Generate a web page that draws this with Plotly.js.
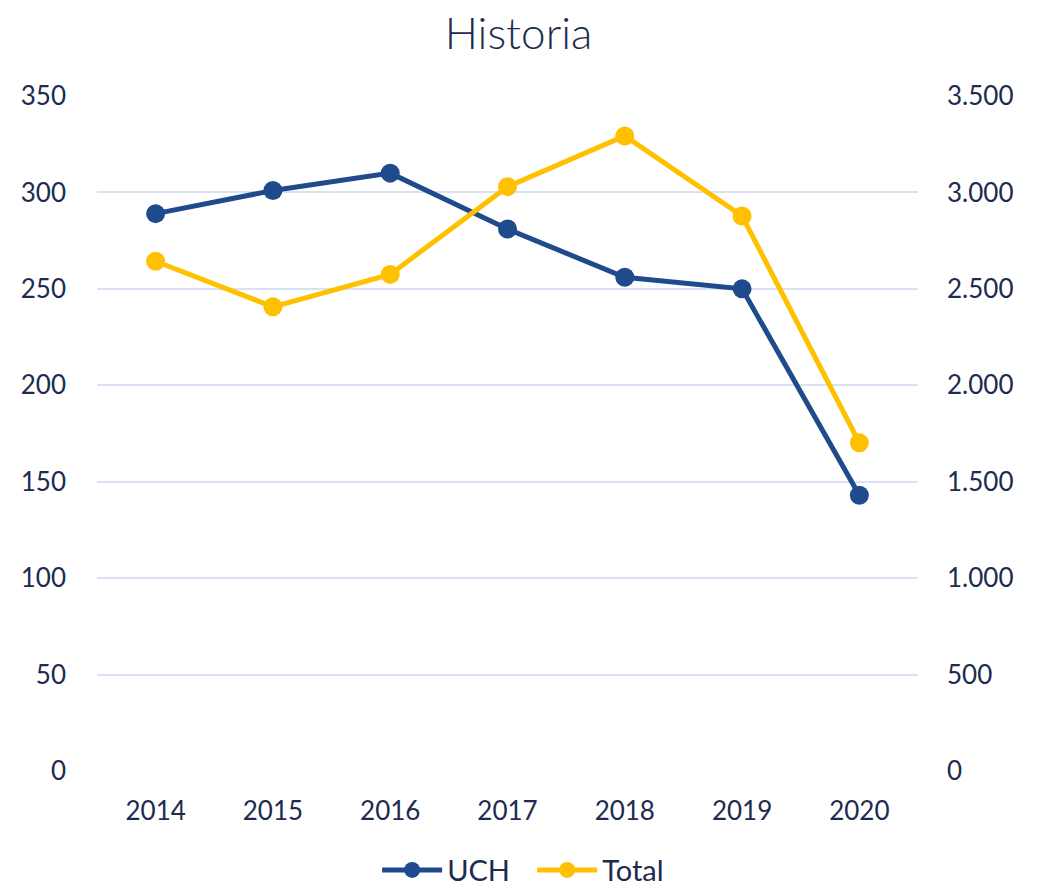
<!DOCTYPE html>
<html>
<head>
<meta charset="utf-8">
<script src="https://cdn.plot.ly/plotly-3.0.1.min.js"></script>
<style>html,body{margin:0;padding:0;background:#fff;}#chart{width:1037px;height:886px;}</style>
</head>
<body>
<div id="chart"></div>
<script>
const years = ["2014","2015","2016","2017","2018","2019","2020"];
const uch = [289, 301, 310, 281, 256, 250, 143];
const total = [2643, 2407, 2575, 3030, 3293, 2878, 1702];
const leftTicks = [0, 50, 100, 150, 200, 250, 300, 350];
const rightTicks = [0, 500, 1000, 1500, 2000, 2500, 3000, 3500];

const navy = "#1d2b4f";
const fontFam = "Lato, 'Open Sans', sans-serif";

const traces = [
  {x: years, y: uch, name: "UCH", type: "scatter", mode: "lines+markers",
   line: {color: "#1f4a8c", width: 5}, marker: {color: "#1f4a8c", size: 19}, yaxis: "y"},
  {x: years, y: total, name: "Total", type: "scatter", mode: "lines+markers",
   line: {color: "#ffc000", width: 5}, marker: {color: "#ffc000", size: 19}, yaxis: "y2"}
];

const layout = {
  width: 1037, height: 886,
  separators: ",.",
  margin: {l: 97, r: 119, t: 96, b: 115},
  paper_bgcolor: "#fff", plot_bgcolor: "#fff",
  font: {family: fontFam, color: navy, size: 26},
  title: {text: "Historia", font: {size: 44, color: navy, family: fontFam, weight: 300}, x: 0.5, xanchor: "center", y: 0.962, yanchor: "middle"},
  showlegend: true,
  legend: {orientation: "h", x: 0.53, xanchor: "center", yref: "container", y: 0.018, yanchor: "middle",
           font: {size: 29, color: navy}, itemwidth: 60, entrywidth: 80, entrywidthmode: "pixels"},
  xaxis: {type: "category", range: [-0.5, 6.5], showgrid: false, zeroline: false, showline: false, automargin: false,
          ticks: "", tickfont: {size: 26, color: navy}, ticklabelstandoff: 22},
  yaxis: {range: [0, 350], tickvals: leftTicks, ticktext: leftTicks.map(String), showgrid: true, gridcolor: "#d9e2f3", gridwidth: 2,
          zeroline: false, showline: false, automargin: false, ticks: "", tickfont: {size: 26, color: navy}, ticklabelstandoff: 30},
  yaxis2: {range: [0, 3500], tickvals: rightTicks, tickformat: ",d", overlaying: "y", side: "right", showgrid: false,
           zeroline: false, showline: false, automargin: false, ticks: "", tickfont: {size: 26, color: navy}, ticklabelstandoff: 28}
};

Plotly.newPlot("chart", traces, layout, {displayModeBar: false, staticPlot: true});
</script>
</body>
</html>
